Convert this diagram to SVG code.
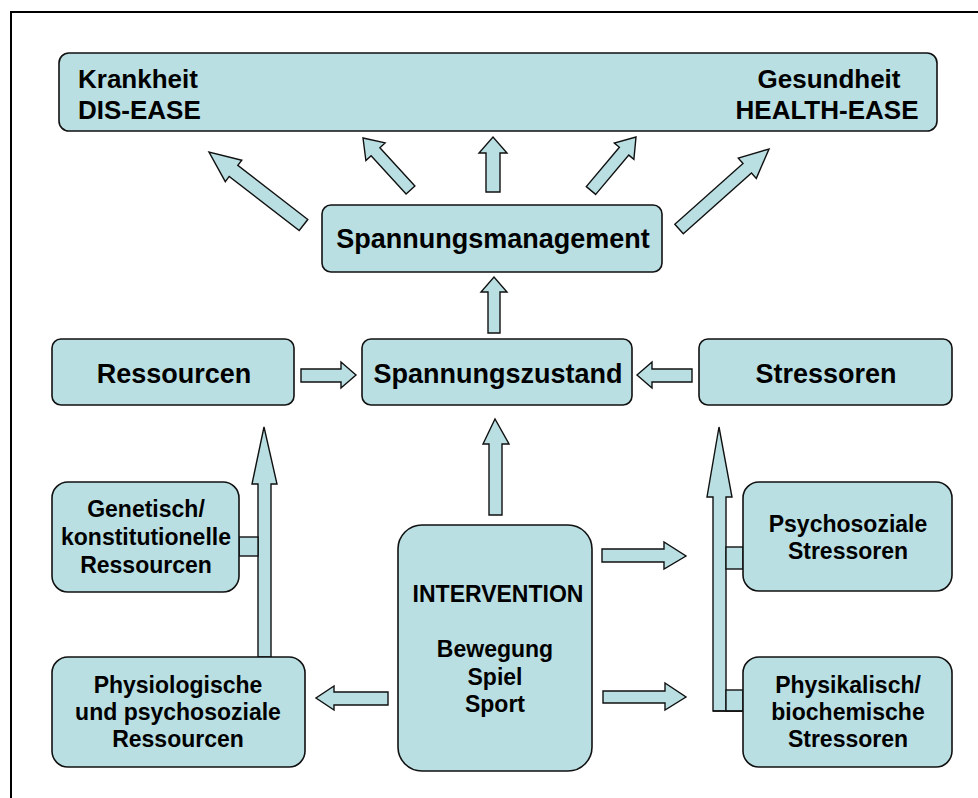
<svg xmlns="http://www.w3.org/2000/svg" width="978" height="798" viewBox="0 0 978 798">
<style>
.box{fill:#b9dfe3;stroke:#111;stroke-width:1.6}
.arr{fill:#b9dfe3;stroke:#111;stroke-width:1.4;stroke-linejoin:miter}
.ln{fill:none;stroke:#111;stroke-width:1.4}
text{font-family:"Liberation Sans",Arial,sans-serif;font-weight:bold;fill:#000}
.big{font-size:27px;text-anchor:middle}
.top{font-size:26px}
.mid{font-size:23px;text-anchor:middle}
</style>
<rect x="0" y="0" width="978" height="798" fill="#fff"/>
<rect x="11" y="12" width="980" height="800" fill="none" stroke="#000" stroke-width="2"/>

<g id="connectors">
  <!-- Spannungsmanagement to top box -->
  <polygon class="arr" points="307.8,219.5 237.8,165.4 241.8,160.2 209,152 225.3,181.6 229.2,176.4 299.2,230.5"/>
  <polygon class="arr" points="414.9,186 379.9,147.7 385.1,142.9 363,138 365.9,160.5 371.1,155.7 406.1,194"/>
  <polygon class="arr" points="486,192 486,153 479,153 493,137 507,153 500,153 500,192"/>
  <polygon class="arr" points="595.7,194.4 628.8,155.1 633.9,159.4 636,137 614.3,143 619.4,147.3 586.3,186.6"/>
  <polygon class="arr" points="683.3,233.8 751.5,173.1 756.3,178.4 769,149 738.3,158.2 743,163.5 674.8,224.2"/>
  <!-- Spannungszustand to Spannungsmanagement -->
  <polygon class="arr" points="488,333 488,292 481,292 494,277 507,292 500,292 500,333"/>
  <!-- Ressourcen to Spannungszustand -->
  <polygon class="arr" points="301,369 341,369 341,362 356,375 341,388 341,382 301,382"/>
  <!-- Stressoren to Spannungszustand -->
  <polygon class="arr" points="692,369 652,369 652,362 637,375 652,388 652,382 692,382"/>
  <!-- Intervention to Spannungszustand -->
  <polygon class="arr" points="489,515 489,444 483,444 495,419 509,444 502,444 502,515"/>
  <!-- Intervention to stressor boxes -->
  <polygon class="arr" points="602,549 664,549 664,542 686,556 664,569 664,562 602,562"/>
  <polygon class="arr" points="603,691 665,691 665,683 686,697 665,710 665,703 603,703"/>
  <!-- Intervention to Physiologische -->
  <polygon class="arr" points="388,692 334,692 334,686 316,698 334,710 334,705 388,705"/>
  <!-- left tall arrow to Ressourcen -->
  <polygon class="arr" points="258,657 258,484 252,484 264,427 277,484 271,484 271,657"/>
  <rect class="arr" x="239" y="537" width="19" height="19"/>
  <!-- right tall arrow to Stressoren -->
  <polygon class="arr" points="743,711 713,711 713,497 707,497 719,427 732,497 726,497 726,711"/>
  <rect class="arr" x="726" y="547" width="17" height="22"/>
  <rect class="arr" x="726" y="690" width="17" height="21"/>
  <line class="ln" x1="713" y1="711" x2="743" y2="711"/>
</g>

<g id="top-box">
  <rect class="box" x="59" y="53" width="878" height="78" rx="10"/>
  <text class="top" x="78" y="88">Krankheit</text>
  <text class="top" x="78" y="119">DIS-EASE</text>
  <text class="top" x="829" y="88" text-anchor="middle">Gesundheit</text>
  <text class="top" x="827" y="119" text-anchor="middle">HEALTH-EASE</text>
</g>

<g id="spannungsmanagement">
  <rect class="box" x="322" y="205" width="340" height="67" rx="9"/>
  <text class="big" x="493" y="248">Spannungsmanagement</text>
</g>

<g id="ressourcen">
  <rect class="box" x="52" y="339" width="242" height="66" rx="9"/>
  <text class="big" x="174" y="383">Ressourcen</text>
</g>

<g id="spannungszustand">
  <rect class="box" x="362" y="339" width="270" height="66" rx="9"/>
  <text class="big" x="498" y="383">Spannungszustand</text>
</g>

<g id="stressoren">
  <rect class="box" x="699" y="339" width="253" height="66" rx="9"/>
  <text class="big" x="826" y="383">Stressoren</text>
</g>

<g id="genetisch">
  <rect class="box" x="52" y="482" width="187" height="110" rx="16"/>
  <text class="mid" x="146" y="517">Genetisch/</text>
  <text class="mid" x="146" y="545">konstitutionelle</text>
  <text class="mid" x="146" y="573">Ressourcen</text>
</g>

<g id="physiologische">
  <rect class="box" x="52" y="657" width="253" height="110" rx="16"/>
  <text class="mid" x="178" y="693">Physiologische</text>
  <text class="mid" x="178" y="720">und psychosoziale</text>
  <text class="mid" x="178" y="747">Ressourcen</text>
</g>

<g id="intervention">
  <rect class="box" x="398" y="525" width="194" height="246" rx="24"/>
  <text class="mid" x="498" y="602">INTERVENTION</text>
  <text class="mid" x="495" y="657">Bewegung</text>
  <text class="mid" x="495" y="685">Spiel</text>
  <text class="mid" x="495" y="712">Sport</text>
</g>

<g id="psychosoziale">
  <rect class="box" x="743" y="482" width="209" height="109" rx="16"/>
  <text class="mid" x="848" y="532">Psychosoziale</text>
  <text class="mid" x="848" y="559">Stressoren</text>
</g>

<g id="physikalisch">
  <rect class="box" x="743" y="657" width="209" height="110" rx="16"/>
  <text class="mid" x="848" y="693">Physikalisch/</text>
  <text class="mid" x="848" y="720">biochemische</text>
  <text class="mid" x="848" y="747">Stressoren</text>
</g>
</svg>
